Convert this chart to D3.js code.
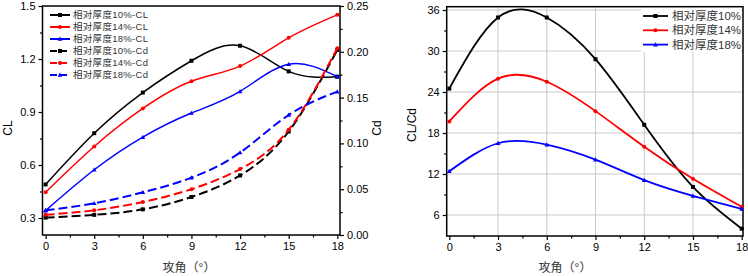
<!DOCTYPE html>
<html><head><meta charset="utf-8">
<script src="https://cdn.jsdelivr.net/npm/d3@7"></script>
<style>
body{margin:0;background:#fff;}
text{font-family:"Liberation Sans",Arial,"Noto Sans CJK SC",sans-serif;}
</style></head>
<body><svg id="c" width="748" height="276"></svg>
<script>
const angles = [0, 3, 6, 9, 12, 15, 18];
const cl10 = [0.49, 0.78, 1.01, 1.19, 1.275, 1.13, 1.10];
const cl14 = [0.446, 0.705, 0.92, 1.074, 1.16, 1.32, 1.45];
const cl18 = [0.342, 0.573, 0.758, 0.894, 1.017, 1.17, 1.10];
const cd10 = [0.019, 0.022, 0.028, 0.0415, 0.065, 0.113, 0.202];
const cd14 = [0.022, 0.027, 0.036, 0.050, 0.072, 0.115, 0.204];
const cd18 = [0.027, 0.0346, 0.0466, 0.0626, 0.090, 0.131, 0.1565];
const ld10 = [24.5, 34.9, 34.9, 28.8, 19.2, 10.1, 4.0];
const ld14 = [19.7, 25.95, 25.5, 21.2, 16.0, 11.3, 7.2];
const ld18 = [12.4, 16.5, 16.3, 14.1, 11.1, 8.8, 6.9];
const xTicks = [0, 3, 6, 9, 12, 15, 18];
const clTicks = [0.3, 0.6, 0.9, 1.2, 1.5];
const cdTicks = [0.00, 0.05, 0.10, 0.15, 0.20, 0.25];
const ldTicks = [6, 12, 18, 24, 30, 36];
const leftLegend = ["相对厚度10%-CL", "相对厚度14%-CL", "相对厚度18%-CL", "相对厚度10%-Cd", "相对厚度14%-Cd", "相对厚度18%-Cd"];
const rightLegend = ["相对厚度10%", "相对厚度14%", "相对厚度18%"];
const colors = ["#000000", "#ff0000", "#0000ff"];
const shapes = ["square", "circle", "triangle"];
const xLabel = "攻角（°）";

const svg = d3.select("#c");

function marker(g, shape, x, y, color, s) {
  if (shape === "square") g.append("rect").attr("x", x - s/2).attr("y", y - s/2).attr("width", s).attr("height", s).attr("fill", color);
  else if (shape === "circle") g.append("circle").attr("cx", x).attr("cy", y).attr("r", s/2).attr("fill", color);
  else g.append("path").attr("d", `M${x},${y - s*0.6}L${x + s*0.6},${y + s*0.45}L${x - s*0.6},${y + s*0.45}Z`).attr("fill", color);
}

function series(g, xs, ys, vals, color, shape, dash, width, ms) {
  const line = d3.line().x((d, i) => xs(angles[i])).y(d => ys(d)).curve(d3.curveNatural);
  g.append("path").attr("d", line(vals)).attr("fill", "none").attr("stroke", color)
    .attr("stroke-width", width).attr("stroke-dasharray", dash || null);
  vals.forEach((v, i) => marker(g, shape, xs(angles[i]), ys(v), color, ms));
}

// ---------- Left chart ----------
const L = {x0: 42.5, x1: 340, y0: 6, y1: 235};
const xL = d3.scaleLinear().domain([0, 18]).range([45.6, 337.3]);
const yCL = d3.scaleLinear().domain([0.3, 1.5]).range([218, 6]);
const yCd = d3.scaleLinear().domain([0, 0.25]).range([235, 6]);
const gL = svg.append("g");

// axes
const axB = gL.append("g").attr("transform", `translate(0,${L.y1})`)
  .call(d3.axisBottom(xL).tickValues(xTicks).tickSize(4).tickPadding(3).tickFormat(d3.format("d")));
gL.append("g").attr("transform", `translate(0,${L.y1})`)
  .call(d3.axisBottom(xL).tickValues(d3.range(1.5, 18, 3)).tickSize(2.5).tickFormat(""));
gL.append("g").attr("transform", `translate(${L.x0},0)`)
  .call(d3.axisLeft(yCL).tickValues(clTicks).tickSize(4).tickPadding(3).tickFormat(d3.format(".1f")));
gL.append("g").attr("transform", `translate(${L.x0},0)`)
  .call(d3.axisLeft(yCL).tickValues([0.45, 0.75, 1.05, 1.35]).tickSize(2.5).tickFormat(""));
gL.append("g").attr("transform", `translate(${L.x1},0)`)
  .call(d3.axisRight(yCd).tickValues(cdTicks).tickSize(4).tickPadding(3).tickFormat(d3.format(".2f")));
gL.append("g").attr("transform", `translate(${L.x1},0)`)
  .call(d3.axisRight(yCd).tickValues([0.025, 0.075, 0.125, 0.175, 0.225]).tickSize(2.5).tickFormat(""));
gL.selectAll(".domain").remove();
gL.selectAll(".tick line").attr("stroke", "#000").attr("stroke-width", 1.2);
gL.selectAll(".tick text").attr("font-size", 11).attr("fill", "#000")
  .style("font-family", "'Liberation Sans',Arial,sans-serif");
gL.append("rect").attr("x", L.x0).attr("y", L.y0).attr("width", L.x1 - L.x0).attr("height", L.y1 - L.y0)
  .attr("fill", "none").attr("stroke", "#000").attr("stroke-width", 1.5);

const clSeries = [cl10, cl14, cl18];
const cdSeries = [cd10, cd14, cd18];
clSeries.forEach((s, i) => series(gL, xL, yCL, s, colors[i], shapes[i], null, 1.5, 4));
cdSeries.forEach((s, i) => series(gL, xL, yCd, s, colors[i], shapes[i], "9,4", 2, 4));

// legend left
leftLegend.forEach((t, i) => {
  const y = 15 + i * 12;
  const c = colors[i % 3];
  gL.append("line").attr("x1", 50).attr("x2", 70).attr("y1", y).attr("y2", y)
    .attr("stroke", c).attr("stroke-width", 2).attr("stroke-dasharray", i >= 3 ? "7,3" : null);
  marker(gL, shapes[i % 3], 60, y, c, 4);
  gL.append("text").attr("x", 73).attr("y", y).attr("dy", "0.35em").attr("font-size", 9.5)
    .attr("fill", "#333").attr("letter-spacing", 0.3).text(t);
});

gL.append("text").attr("transform", "translate(12,128) rotate(-90)").attr("text-anchor", "middle")
  .attr("font-size", 12).text("CL");
gL.append("text").attr("transform", "translate(381,128) rotate(-90)").attr("text-anchor", "middle")
  .attr("font-size", 12).text("Cd");
gL.append("text").attr("x", 189).attr("y", 272).attr("text-anchor", "middle")
  .attr("font-size", 12).attr("fill", "#333").text(xLabel);

// ---------- Right chart ----------
const R = {x0: 446.7, x1: 743, y0: 6.7, y1: 236};
const xR = d3.scaleLinear().domain([0, 18]).range([449.3, 741.7]);
const yR = d3.scaleLinear().domain([6, 36]).range([215, 10]);
const gR = svg.append("g");

// grid
gR.selectAll(".gx").data([3, 6, 9, 12, 15]).join("line")
  .attr("x1", d => xR(d)).attr("x2", d => xR(d)).attr("y1", R.y0).attr("y2", R.y1)
  .attr("stroke", "#c8c8c8").attr("stroke-width", 1);
gR.selectAll(".gy").data(ldTicks).join("line")
  .attr("x1", R.x0).attr("x2", R.x1).attr("y1", d => yR(d)).attr("y2", d => yR(d))
  .attr("stroke", "#c8c8c8").attr("stroke-width", 1);

gR.append("g").attr("class", "ax").attr("transform", `translate(0,${R.y1})`)
  .call(d3.axisBottom(xR).tickValues(xTicks).tickSize(4).tickPadding(3).tickFormat(d3.format("d")));
gR.append("g").attr("class", "ax").attr("transform", `translate(0,${R.y1})`)
  .call(d3.axisBottom(xR).tickValues(d3.range(1.5, 18, 3)).tickSize(2.5).tickFormat(""));
gR.append("g").attr("class", "ax").attr("transform", `translate(${R.x0},0)`)
  .call(d3.axisLeft(yR).tickValues(ldTicks).tickSize(4).tickPadding(3).tickFormat(d3.format("d")));
gR.append("g").attr("class", "ax").attr("transform", `translate(${R.x0},0)`)
  .call(d3.axisLeft(yR).tickValues([9, 15, 21, 27, 33]).tickSize(2.5).tickFormat(""));
gR.selectAll(".ax .domain").remove();
gR.selectAll(".ax .tick line").attr("stroke", "#000").attr("stroke-width", 1.2);
gR.selectAll(".ax .tick text").attr("font-size", 11).attr("fill", "#000")
  .style("font-family", "'Liberation Sans',Arial,sans-serif");
gR.append("rect").attr("x", R.x0).attr("y", R.y0).attr("width", R.x1 - R.x0).attr("height", R.y1 - R.y0)
  .attr("fill", "none").attr("stroke", "#000").attr("stroke-width", 1.5);

[ld10, ld14, ld18].forEach((s, i) => series(gR, xR, yR, s, colors[i], shapes[i], null, 1.8, 4));

// legend right
const lgBg = gR.append("rect").attr("x", 641).attr("y", 8).attr("width", 100).attr("height", 44).attr("fill", "#fff");
rightLegend.forEach((t, i) => {
  const y = 16 + i * 14.3;
  gR.append("line").attr("x1", 643).attr("x2", 668).attr("y1", y).attr("y2", y)
    .attr("stroke", colors[i]).attr("stroke-width", 1.8);
  marker(gR, shapes[i], 655.5, y, colors[i], 4);
  gR.append("text").attr("x", 672).attr("y", y).attr("dy", "0.36em").attr("font-size", 11.5)
    .attr("fill", "#333").text(t);
});

gR.append("text").attr("transform", "translate(416,125) rotate(-90)").attr("text-anchor", "middle")
  .attr("font-size", 12).text("CL/Cd");
gR.append("text").attr("x", 565).attr("y", 272).attr("text-anchor", "middle")
  .attr("font-size", 12).attr("fill", "#333").text(xLabel);
</script></body></html>
